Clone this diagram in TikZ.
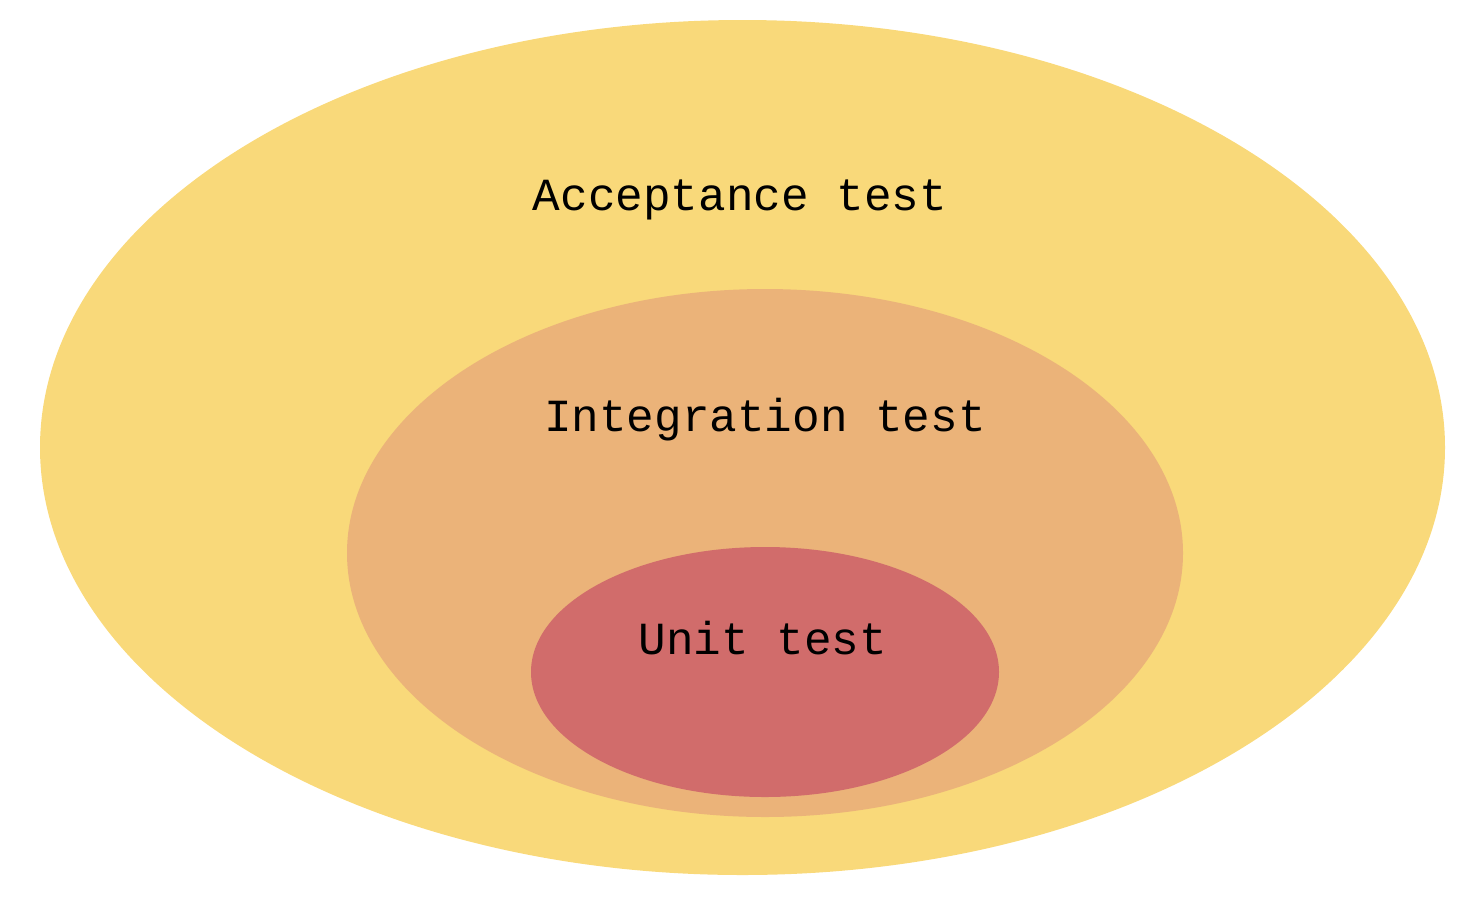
\documentclass[tikz,border=0pt]{standalone}
\usepackage{fontspec}
\setmonofont{Liberation Mono}
\definecolor{cA}{HTML}{F9D97A}
\definecolor{cB}{HTML}{EBB379}
\definecolor{cC}{HTML}{D16C6B}
\begin{document}
\begin{tikzpicture}[x=1pt,y=-1pt,lbl/.style={font=\ttfamily\fontsize{46}{46}\selectfont,text=black}]
\useasboundingbox (0,0) rectangle (1480,898);
\fill[cA] (742.5,447.5) ellipse [x radius=702.5, y radius=427.5];
\fill[cB] (765,553) ellipse [x radius=418, y radius=264];
\fill[cC] (765,672) ellipse [x radius=234, y radius=125];
\node[lbl] (a) at (740,200) {Acceptance test};
\node[lbl] (b) at (765,420) {Integration test};
\node[lbl] (c) at (763,638) {Unit test};
\end{tikzpicture}
\end{document}
